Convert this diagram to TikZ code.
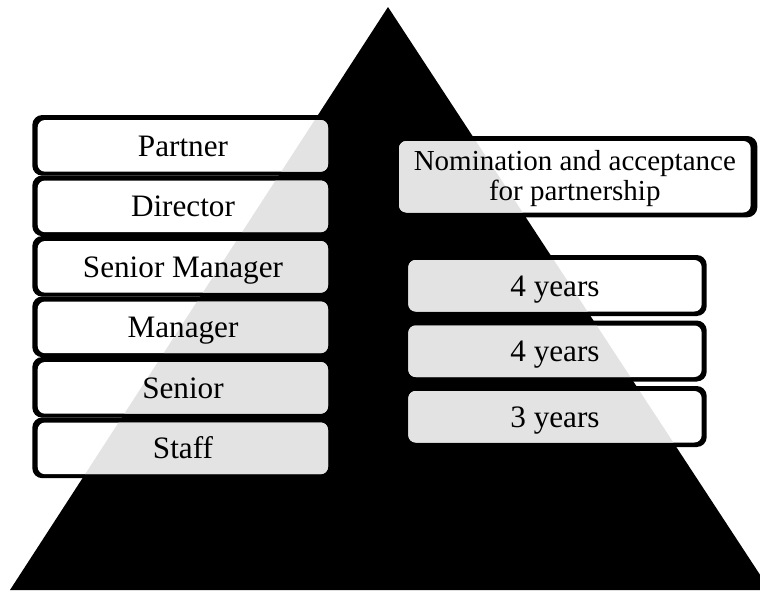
\documentclass[tikz,border=0pt]{standalone}
\usepackage{fontspec}
\setmainfont{Liberation Serif}
\definecolor{boxgray}{RGB}{227,227,227}
% one tier: black frame, white face, face tinted grey where it lies over the pyramid, then its label
\newcommand\tierbox[5]{%
  \fill[frame] #1;
  \fill[face] #2;
  \begin{scope}
    \clip[rounded corners=5.5pt] #2;
    \fill[boxgray] (apex) -- (baseR) -- (baseL) -- cycle;
  \end{scope}
  \node[#4] (#3) at #5;
}
\begin{document}
\begin{tikzpicture}[x=0.75pt,y=-0.75pt,
  frame/.style={fill=black,rounded corners=7.5pt},
  face/.style={fill=white,rounded corners=5.5pt},
  rank/.style={font=\fontsize{23.4}{27}\selectfont,anchor=base,inner sep=0pt},
  note/.style={font=\fontsize{21.75}{22.5}\selectfont,align=center,anchor=center,inner sep=0pt}]
\useasboundingbox (0,0) rectangle (760,590);
\clip (0,0) rectangle (760,590);
\coordinate (apex) at (388,7);
\coordinate (baseL) at (10,590);
\coordinate (baseR) at (770,590);
% pyramid
\fill[black] (apex) -- (baseR) -- (baseL) -- cycle;
% career ranks
\foreach \k/\txt/\nm in {0/Partner/partner,1/Director/director,2/Senior Manager/seniormanager,
                         3/Manager/manager,4/Senior/senior,5/Staff/staff}{
  \pgfmathsetmacro\ft{120+60.5*\k}
  \pgfmathsetmacro\fb{171.7+60.5*\k}
  \pgfmathsetmacro\rt{\ft-5}
  \pgfmathsetmacro\rb{\fb+4}
  \pgfmathsetmacro\ty{(\ft+\fb)/2+10.5}
  \tierbox{(32.3,\rt) rectangle (329,\rb)}{(37.7,\ft) rectangle (328,\fb)}{\nm}{rank}{(183,\ty) {\txt}}
}
% time spent at each step
\foreach \k/\txt/\nm in {0/4 years/yearsA,1/4 years/yearsB,2/3 years/yearsC}{
  \pgfmathsetmacro\ft{260+65.5*\k}
  \pgfmathsetmacro\fb{311.5+65.5*\k}
  \pgfmathsetmacro\rt{\ft-5}
  \pgfmathsetmacro\rb{\fb+4.5}
  \pgfmathsetmacro\ty{(\ft+\fb)/2+10.3}
  \tierbox{(407,\rt) rectangle (706.7,\rb)}{(408.3,\ft) rectangle (701.7,\fb)}{\nm}{rank}{(555,\ty) {\txt}}
}
% final step
\tierbox{(398,136) rectangle (757.3,217.3)}{(399,141) rectangle (750.7,212.5)}{nomination}{note}%
  {(574.8,178.2) {Nomination and acceptance\\for partnership}}
\end{tikzpicture}
\end{document}
